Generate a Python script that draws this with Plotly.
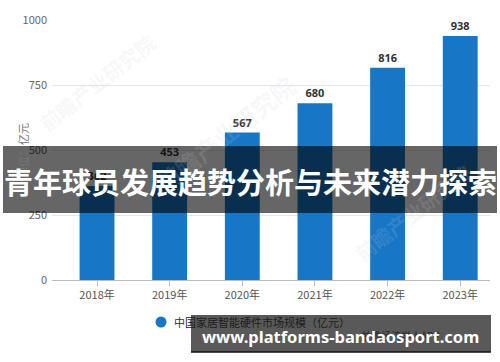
import plotly.graph_objects as go

W, H = 500, 362

years = ["2018年", "2019年", "2020年", "2021年", "2022年", "2023年"]
values = [362, 453, 567, 680, 816, 938]
y_ticks = [0, 250, 500, 750, 1000]
series_name = "中国家居智能硬件市场规模（亿元）"
y_title = "单位：亿元"
banner_title = "青年球员发展趋势分析与未来潜力探索"
site_text = "www.platforms-bandaosport.com"
source_text = "前瞻经济学人APP"
watermark = "前瞻产业研究院"

BLUE = "#1776c6"
FONT = "Noto Sans CJK SC, Noto Sans, sans-serif"


def px_x(x):
    return x / W


def px_y(y):
    return (H - y) / H


fig = go.Figure()
fig.add_trace(go.Bar(
    x=list(range(len(years))), y=values,
    marker=dict(color=BLUE, line=dict(width=0)),
    width=0.48,
    text=[str(v) for v in values],
    textposition="outside",
    textfont=dict(size=11, color="#333333", family="Noto Sans, sans-serif", weight="bold"),
    cliponaxis=False,
    showlegend=False,
    hoverinfo="skip",
))

fig.update_layout(
    width=W, height=H,
    margin=dict(l=0, r=0, t=0, b=0, autoexpand=False),
    paper_bgcolor="white", plot_bgcolor="white",
    font=dict(family=FONT, size=11, color="#555555"),
    showlegend=False,
    xaxis=dict(
        domain=[px_x(52), px_x(490)],
        range=[-0.62, 5.41],
        tickmode="array", tickvals=list(range(len(years))), ticktext=years,
        ticks="outside", ticklen=5, tickcolor="#bbbbbb",
        showline=True, linecolor="#bbbbbb", linewidth=1,
        showgrid=False, zeroline=False,
        tickfont=dict(size=11, color="#555555"),
        automargin=False, fixedrange=True,
    ),
    yaxis=dict(
        domain=[px_y(280), px_y(20)],
        range=[0, 1000],
        tickmode="array", tickvals=y_ticks,
        showgrid=True, gridcolor="#e6e6e6", gridwidth=1,
        zeroline=False, showline=False,
        tickfont=dict(size=11, color="#666666"),
        ticklabelstandoff=4,
        automargin=False, fixedrange=True,
    ),
)

# faint watermarks
for (wx, wy, sz) in [(30, 25, 20), (225, 65, 24), (480, 270, 20)]:
    fig.add_annotation(
        x=px_x(wx), y=px_y(wy), xref="paper", yref="paper",
        text=watermark, showarrow=False, textangle=-38,
        font=dict(size=sz, color="rgba(200,205,218,0.16)", family=FONT, weight="bold"),
    )

# y-axis title
fig.add_annotation(
    x=px_x(13), y=px_y(151), xref="paper", yref="paper",
    text=y_title, showarrow=False, textangle=-90,
    font=dict(size=11, color="#777777", family=FONT),
)

# legend (marker + text)
fig.add_shape(
    type="circle", xref="paper", yref="paper", layer="below",
    xsizemode="pixel", ysizemode="pixel",
    xanchor=px_x(161), yanchor=px_y(322),
    x0=-5.5, x1=5.5, y0=-5.5, y1=5.5,
    fillcolor=BLUE, line=dict(width=0),
)
fig.add_annotation(
    x=px_x(172), y=px_y(322), xref="paper", yref="paper",
    xanchor="left", yanchor="middle",
    text=series_name[0] + "<span style='color:#1c1c1c'>" + series_name[1:] + "</span>",
    showarrow=False,
    font=dict(size=11, color="#333333", family=FONT),
)

# source text (under the bottom banner)
fig.add_annotation(
    x=px_x(442), y=px_y(345), xref="paper", yref="paper",
    text=source_text, showarrow=False,
    font=dict(size=10, color="rgba(20,20,20,0.75)", family=FONT),
)

# top banner
fig.add_shape(
    type="rect", xref="paper", yref="paper", layer="above",
    x0=px_x(3), x1=px_x(497), y0=px_y(213), y1=px_y(146),
    fillcolor="rgba(0,0,0,0.6)", line=dict(width=0),
)
fig.add_annotation(
    x=px_x(250), y=px_y(181), xref="paper", yref="paper",
    xanchor="center", yanchor="middle",
    text=banner_title, showarrow=False,
    font=dict(size=29, color="white", family=FONT, weight="bold"),
)

# bottom banner
fig.add_shape(
    type="rect", xref="paper", yref="paper", layer="above",
    x0=px_x(191), x1=px_x(491), y0=px_y(352), y1=px_y(315),
    fillcolor="rgba(0,0,0,0.65)", line=dict(width=0),
)
fig.add_shape(
    type="line", xref="paper", yref="paper", layer="above",
    x0=px_x(191), x1=px_x(491), y0=px_y(352), y1=px_y(352),
    line=dict(color="#111111", width=1.5),
)
fig.add_annotation(
    x=px_x(340), y=px_y(336), xref="paper", yref="paper",
    xanchor="center", yanchor="middle",
    text=site_text, showarrow=False,
    font=dict(size=16.5, color="white", family="Noto Sans, sans-serif", weight="bold"),
)

fig.write_html(
    "out.html",
    config={"displayModeBar": False, "staticPlot": True},
    post_script="document.body.style.margin='0';document.body.style.overflow='hidden';",
)
